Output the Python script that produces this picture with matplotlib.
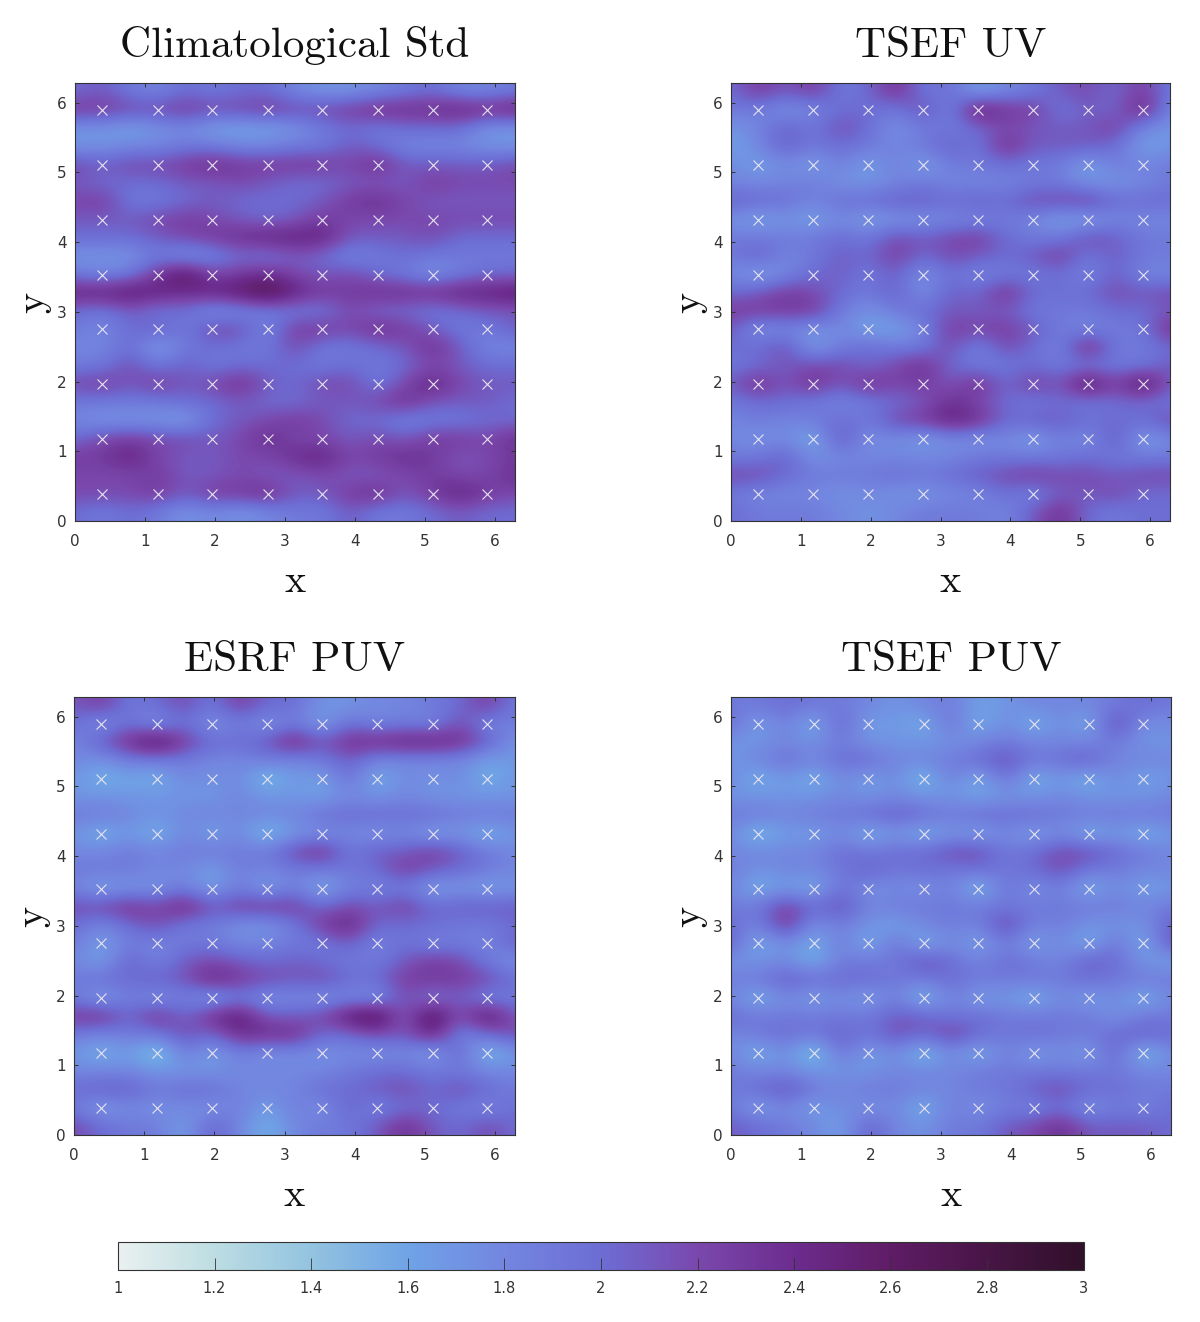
import matplotlib
matplotlib.use('Agg')
import matplotlib.pyplot as plt
from matplotlib.colors import LinearSegmentedColormap
import numpy as np

# values on a coarse grid, top row first
clim_std = [
    [2.0,2.1,1.9,1.8,2.0,1.9,2.0,2.0,1.8,1.7,1.7,1.8,1.9,2.0,1.8,1.8,1.9],
    [2.3,2.3,2.2,2.2,2.3,2.2,2.2,2.3,2.2,2.2,2.3,2.4,2.4,2.4,2.5,2.4,2.5],
    [1.7,1.7,1.6,1.7,1.8,1.6,1.6,1.6,1.7,1.9,2.0,1.9,2.0,2.0,2.0,1.7,1.7],
    [1.7,1.7,1.8,1.8,1.9,1.9,1.8,1.8,1.9,1.9,2.1,2.0,1.8,1.8,1.8,1.7,1.7],
    [2.2,2.1,2.2,2.2,2.3,2.4,2.3,2.3,2.3,2.3,2.2,2.4,2.1,2.1,2.1,2.1,2.2],
    [2.1,2.0,2.0,2.0,2.1,2.1,2.2,2.1,2.0,2.0,2.1,2.1,2.1,2.3,2.2,2.2,2.2],
    [2.2,2.3,1.9,1.9,2.0,2.1,2.0,2.0,2.0,2.1,2.3,2.4,2.2,2.1,2.1,2.1,2.1],
    [2.1,2.1,2.1,2.2,2.3,2.2,2.1,2.0,2.1,2.3,2.2,2.2,2.2,2.2,2.2,2.2,2.2],
    [2.0,2.0,2.0,2.1,2.2,2.3,2.4,2.5,2.5,2.5,2.1,2.1,2.1,2.2,2.0,2.0,2.0],
    [1.7,1.7,1.7,1.9,1.7,1.8,2.0,1.9,2.1,2.0,1.8,1.9,2.0,1.9,1.9,1.9,1.9],
    [1.9,1.8,1.9,2.3,2.7,2.2,2.3,2.4,2.2,2.1,2.2,2.0,1.9,1.7,1.9,2.0,2.0],
    [2.5,2.5,2.6,2.5,2.4,2.5,2.6,2.8,2.5,2.3,2.3,2.4,2.4,2.4,2.5,2.5,2.6],
    [2.0,1.9,2.1,1.9,2.0,1.7,1.8,1.9,1.9,1.9,2.2,2.0,2.0,1.9,2.0,2.1,2.1],
    [1.9,1.8,2.0,2.1,1.9,2.2,2.2,1.8,2.3,2.3,2.2,2.4,2.3,2.1,1.9,1.9,2.1],
    [1.8,1.8,2.0,1.6,1.9,2.0,1.9,1.9,2.2,1.9,1.9,2.0,2.1,2.4,2.1,1.8,1.8],
    [1.9,1.9,2.2,1.9,2.1,1.9,2.0,2.0,2.0,1.9,2.0,1.9,2.0,2.2,2.1,2.0,2.0],
    [2.2,2.3,2.1,2.3,2.1,2.2,2.4,2.1,2.0,2.2,2.2,1.9,2.2,2.5,2.2,2.1,2.1],
    [1.9,1.9,1.9,1.9,2.0,2.0,2.1,2.0,2.0,2.1,2.1,2.2,2.4,2.1,2.1,2.1,2.0],
    [1.8,1.7,1.7,1.7,1.6,2.0,2.1,2.2,2.3,2.2,2.0,2.0,1.8,1.9,1.9,2.0,2.0],
    [2.0,2.2,2.3,2.2,2.2,2.1,2.2,2.4,2.2,2.2,2.1,2.2,2.1,2.3,2.3,2.2,2.4],
    [2.3,2.3,2.5,2.2,2.1,2.1,2.2,2.2,2.4,2.5,2.2,2.3,2.4,2.3,2.1,2.2,2.3],
    [2.2,2.2,2.2,2.3,2.1,2.1,2.2,2.1,2.1,2.2,2.1,2.1,2.2,2.3,2.2,2.2,2.4],
    [2.2,2.2,2.2,2.3,2.1,2.3,2.3,2.4,2.1,2.1,2.3,2.4,2.1,2.3,2.5,2.3,2.2],
    [2.0,1.9,2.0,1.9,1.7,1.8,1.7,1.8,1.9,1.9,2.1,1.9,1.9,2.0,2.1,2.0,2.0],
]
tsef_uv = [
    [2.0,2.3,2.1,2.3,1.9,2.0,2.4,1.9,2.0,1.6,1.8,1.9,2.1,2.2,2.0,2.3,1.9],
    [1.9,1.9,1.7,1.8,2.0,2.0,1.9,2.2,1.8,2.6,2.3,2.3,1.9,2.1,2.0,2.5,1.8],
    [1.7,1.8,2.1,1.9,2.2,2.0,1.7,1.9,1.9,2.0,2.2,2.1,2.1,2.1,2.3,1.8,1.7],
    [1.6,1.8,2.1,1.9,2.0,1.9,1.8,1.9,2.1,1.9,2.4,2.1,2.1,2.1,2.0,1.6,1.7],
    [1.8,1.6,1.8,1.6,1.9,1.6,1.9,1.6,1.9,1.9,2.0,1.9,1.9,1.6,1.9,1.8,1.9],
    [1.8,1.8,1.8,1.9,1.7,1.7,1.8,1.9,1.8,1.8,1.8,1.9,1.9,1.7,1.7,1.8,1.9],
    [2.1,2.0,2.0,1.8,2.0,2.0,2.1,2.1,2.0,2.1,2.0,2.2,2.2,2.3,2.0,2.0,2.0],
    [1.7,1.6,1.7,1.6,1.8,1.6,1.7,1.7,1.8,1.8,1.9,1.8,1.6,1.6,1.8,1.8,1.8],
    [1.9,1.9,1.9,1.9,2.0,1.9,2.2,2.1,2.2,2.3,2.0,1.9,1.9,2.2,2.1,1.9,1.9],
    [1.9,2.1,1.8,1.9,2.1,2.0,2.3,2.0,2.2,2.1,2.0,2.1,2.3,1.9,2.1,1.9,1.9],
    [1.8,1.6,1.8,2.0,2.1,1.9,2.1,1.7,2.0,1.8,1.9,1.9,2.0,1.8,2.1,1.8,1.8],
    [2.0,2.1,2.3,2.2,2.0,1.9,2.1,1.7,2.1,2.0,2.4,2.0,2.0,2.0,2.2,2.1,2.2],
    [2.3,2.3,2.3,2.3,1.9,1.7,1.9,2.0,2.1,2.1,2.1,1.9,1.9,1.9,2.0,2.0,2.1],
    [2.1,1.7,1.8,1.7,1.8,1.6,1.6,1.8,2.3,2.2,2.3,2.1,1.9,1.8,1.9,1.9,2.4],
    [2.0,2.0,2.2,1.6,1.9,2.0,1.9,1.9,2.2,1.8,2.2,2.0,1.8,2.5,1.9,1.9,2.0],
    [1.9,2.0,2.1,2.2,2.2,2.0,2.2,2.4,2.0,1.9,1.9,2.0,1.9,1.9,1.9,1.9,2.1],
    [2.1,2.4,2.1,2.4,2.1,2.4,2.2,2.3,2.1,2.4,2.0,2.3,2.1,2.7,2.2,2.7,2.1],
    [1.9,2.0,2.0,1.9,1.8,1.9,2.0,2.1,2.4,2.2,2.0,1.9,2.0,1.9,2.0,2.0,1.9],
    [1.8,1.9,1.8,1.9,2.0,1.9,2.2,2.3,2.5,2.4,2.0,2.1,2.1,2.0,2.0,2.0,2.2],
    [1.8,1.7,1.8,1.5,2.2,1.7,1.8,1.6,1.8,1.7,1.8,1.6,1.9,1.7,2.2,1.6,1.8],
    [1.9,1.9,2.1,1.7,1.8,1.8,1.8,1.8,1.8,1.9,1.9,1.9,1.9,2.0,1.9,1.9,1.9],
    [2.2,2.2,2.0,1.9,1.9,1.9,2.0,1.9,2.0,2.1,2.2,2.3,2.2,2.2,2.1,2.2,2.2],
    [1.9,1.8,1.8,1.8,1.7,1.8,1.7,1.7,1.8,1.8,2.0,1.8,2.1,2.1,2.2,2.0,2.0],
    [2.0,1.9,1.9,1.9,1.8,1.7,1.8,1.9,1.9,1.9,1.8,2.1,2.4,2.0,1.9,2.0,2.0],
]
esrf_puv = [
    [2.1,2.3,1.9,2.0,2.2,1.9,2.3,2.0,2.0,1.7,1.7,1.8,1.8,1.9,2.0,2.3,1.9],
    [2.0,1.7,2.0,1.7,2.0,1.7,1.9,1.7,1.9,1.6,2.0,1.8,1.9,1.8,2.2,1.8,1.9],
    [1.8,2.1,2.4,2.7,2.3,2.0,2.0,2.1,2.5,2.1,2.4,2.4,2.5,2.5,2.4,2.1,1.7],
    [1.8,1.7,1.9,1.9,1.9,1.8,1.8,1.9,1.8,1.9,2.1,1.8,1.8,1.8,1.8,1.6,1.7],
    [1.7,1.5,1.6,1.5,1.8,1.7,1.8,1.4,1.7,1.6,2.0,1.5,1.8,1.7,1.8,1.5,1.7],
    [1.7,1.7,1.7,1.7,1.7,1.7,1.8,1.7,1.7,1.6,1.8,1.7,1.8,1.7,1.7,1.7,1.7],
    [1.9,1.9,1.8,1.7,1.8,1.8,1.8,1.8,1.8,2.0,2.0,2.0,2.0,2.0,1.9,1.9,1.9],
    [1.7,1.5,1.7,1.5,1.8,1.6,1.8,1.4,1.7,1.7,1.8,1.7,1.8,1.6,1.7,1.5,1.7],
    [1.8,1.8,1.9,1.8,1.9,1.9,1.9,1.9,2.2,2.4,1.9,2.1,2.1,2.3,2.1,1.9,1.8],
    [1.9,1.9,1.9,1.8,1.8,1.6,1.9,1.8,1.9,1.9,1.9,2.0,2.3,2.1,2.0,1.9,1.8],
    [1.8,1.6,1.7,1.7,1.9,1.6,1.9,1.6,1.9,1.5,1.9,1.8,1.9,1.6,1.7,1.6,1.7],
    [2.2,2.2,2.4,2.2,2.5,2.1,2.3,2.3,2.3,2.0,2.2,2.1,2.3,2.0,2.1,2.1,2.1],
    [2.0,1.8,2.0,2.2,1.9,1.9,1.7,1.7,1.9,2.3,2.5,2.0,2.0,2.0,1.9,1.9,2.0],
    [1.9,1.6,1.9,1.8,1.9,1.9,1.8,1.8,1.9,1.9,2.1,1.8,2.0,1.8,1.9,1.8,2.1],
    [1.8,1.6,2.1,1.8,2.1,2.2,2.1,2.0,2.1,2.0,1.9,1.9,2.1,2.3,2.2,1.9,1.7],
    [1.9,2.0,2.0,2.1,2.1,2.5,2.3,2.2,2.1,2.2,2.0,2.0,2.3,2.3,2.3,2.2,2.0],
    [1.9,1.6,1.9,1.7,1.9,1.6,1.9,1.7,1.8,1.7,1.8,1.7,2.2,1.9,2.1,1.8,1.9],
    [2.3,2.4,2.0,2.4,2.0,2.4,2.6,2.1,2.1,2.2,2.6,2.8,2.0,2.8,2.1,2.7,2.1],
    [1.9,1.8,1.9,1.9,2.2,2.0,2.4,2.4,2.4,2.0,2.0,2.2,2.1,2.5,1.8,2.0,2.2],
    [1.7,1.5,1.7,1.3,1.9,1.6,1.9,1.7,1.8,1.7,1.8,1.7,1.8,1.6,2.1,1.4,1.7],
    [1.8,1.8,1.8,1.7,1.7,1.7,1.8,1.8,1.8,1.8,1.9,2.0,2.0,1.9,1.9,1.8,1.8],
    [2.0,2.1,2.1,1.9,2.0,2.0,1.8,1.8,1.8,2.0,2.0,2.1,2.2,2.0,2.2,2.0,1.9],
    [1.9,1.6,1.8,1.7,1.8,1.7,1.9,1.6,1.9,1.7,2.1,1.8,2.0,2.0,1.9,1.8,2.0],
    [2.2,2.0,1.9,1.9,1.6,2.1,1.8,1.5,1.8,1.9,1.9,2.1,2.4,2.1,2.0,2.2,2.0],
]
tsef_puv = [
    [1.9,1.9,2.0,1.9,1.9,1.8,1.7,1.8,1.9,1.6,1.7,1.8,1.8,1.8,1.9,2.0,1.9],
    [2.0,1.6,1.9,1.5,2.1,1.6,1.7,1.5,2.0,1.5,1.8,1.5,1.8,1.5,2.3,1.7,1.8],
    [1.7,1.7,1.8,1.7,1.9,1.7,1.7,1.7,1.7,1.8,1.9,1.8,1.8,1.8,1.9,1.7,1.7],
    [1.7,1.8,2.0,1.8,2.0,2.0,1.8,1.8,1.9,2.0,2.2,1.9,2.0,2.1,1.8,1.8,1.8],
    [1.8,1.5,1.7,1.5,1.8,1.6,1.8,1.4,1.9,1.5,2.0,1.5,1.7,1.5,1.8,1.6,1.7],
    [1.7,1.7,1.7,1.7,1.8,1.7,1.8,1.7,1.7,1.6,1.7,1.7,1.8,1.7,1.7,1.7,1.8],
    [1.9,1.9,1.8,1.9,1.9,2.0,2.1,2.0,1.9,2.0,2.0,2.0,1.9,1.9,1.9,1.9,1.9],
    [1.8,1.4,1.7,1.6,1.8,1.5,1.7,1.5,1.7,1.6,1.8,1.6,1.8,1.5,1.7,1.5,1.7],
    [1.8,1.8,1.8,1.8,2.0,1.9,2.0,2.0,2.2,2.2,1.9,2.0,2.2,2.2,2.0,1.9,1.8],
    [1.9,1.7,1.8,1.8,1.9,2.1,1.9,2.0,1.9,2.0,1.9,2.0,2.2,1.9,1.9,1.8,1.8],
    [1.8,1.5,1.7,1.5,2.0,1.7,1.8,1.7,1.9,1.4,2.0,1.7,1.9,1.5,1.8,1.6,1.7],
    [1.9,1.9,2.3,2.0,2.2,1.8,1.9,1.9,1.9,1.9,1.9,1.9,1.9,1.9,1.9,1.8,1.9],
    [2.0,1.8,2.4,1.7,1.9,1.7,1.6,1.8,1.9,1.8,2.3,1.8,1.9,1.7,1.7,1.7,2.1],
    [2.1,1.5,1.8,1.5,1.9,1.5,2.0,1.5,1.8,1.6,1.9,1.6,1.8,1.5,2.0,1.5,2.2],
    [1.7,1.7,1.8,1.5,1.9,1.9,1.9,2.2,2.0,1.8,2.0,1.9,1.8,2.1,2.0,1.7,1.6],
    [1.9,1.9,2.1,2.0,2.0,2.0,1.9,1.9,2.0,1.9,1.9,1.9,1.9,2.0,1.9,1.9,1.9],
    [1.8,1.5,1.8,1.6,1.8,1.6,1.9,1.4,1.9,1.6,1.7,1.5,1.8,1.6,1.8,1.5,1.8],
    [2.0,1.9,1.9,1.9,1.9,1.9,2.1,2.1,1.9,2.0,1.9,1.9,1.9,1.9,1.7,1.9,1.9],
    [1.8,1.9,2.0,1.9,2.1,1.9,2.2,2.0,2.3,2.0,1.9,2.0,1.9,1.9,2.0,2.1,2.0],
    [1.8,1.5,1.8,1.3,2.0,1.6,1.8,1.4,1.8,1.5,1.9,1.6,1.8,1.6,2.1,1.4,1.8],
    [1.9,1.8,1.8,1.7,1.7,1.7,1.8,1.8,1.8,1.9,1.9,1.9,1.9,1.9,1.9,1.8,1.8],
    [1.9,2.0,2.2,1.9,1.8,1.9,1.9,1.8,1.8,1.9,1.9,2.1,2.2,2.0,2.0,1.9,1.9],
    [1.9,1.6,1.8,1.6,1.8,1.7,1.8,1.5,1.9,1.7,1.9,1.8,2.0,1.7,1.9,1.8,2.0],
    [2.1,2.0,1.9,1.8,1.6,2.1,1.8,1.7,1.9,1.9,2.1,2.2,2.4,2.1,2.1,2.1,2.0],
]

titles = ['Climatological Std', 'TSEF UV', 'ESRF PUV', 'TSEF PUV']
fields = [clim_std, tsef_uv, esrf_puv, tsef_puv]
obs_x = [0.39, 1.18, 1.96, 2.75, 3.53, 4.32, 5.11, 5.89]
obs_y = [0.39, 1.18, 1.96, 2.75, 3.53, 4.32, 5.11, 5.89]
ticks = [0, 1, 2, 3, 4, 5, 6]
cbar_ticks = [1, 1.2, 1.4, 1.6, 1.8, 2, 2.2, 2.4, 2.6, 2.8, 3]
cbar_labels = ['1', '1.2', '1.4', '1.6', '1.8', '2', '2.2', '2.4', '2.6', '2.8', '3']

cmap = LinearSegmentedColormap.from_list('std_map', [
    '#eaf0f0', '#bcdde2', '#92c3e0', '#6fa3e6', '#7386e0', '#6d6dd4',
    '#7a48ad', '#6c2c8e', '#5f1c66', '#481546', '#30102a'])

W, H = 1200, 1322
fig = plt.figure(figsize=(W / 100, H / 100), dpi=100)
fig.patch.set_facecolor('white')

# pixel boxes: left, top, right, bottom
boxes = [(75, 83, 515, 521), (731, 83, 1170, 521), (74, 697, 515, 1135), (731, 697, 1171, 1135)]
dark = '#333333'

for box, field, title in zip(boxes, fields, titles):
    l, t, r, b = box
    ax = fig.add_axes([l / W, 1 - b / H, (r - l) / W, (b - t) / H])
    # 17 columns sit on 0, 0.39, ... 6.28 so the image runs half a cell past the box
    im = ax.imshow(np.array(field), extent=(-0.196, 6.479, 0, 6.283), cmap=cmap, vmin=1, vmax=3,
                   interpolation='bicubic', aspect='auto')
    xx, yy = np.meshgrid(obs_x, obs_y)
    ax.plot(xx.ravel(), yy.ravel(), 'x', color='#e6e4f2', ms=6.5, mew=0.8)
    ax.set_xlim(0, 6.283)
    ax.set_ylim(0, 6.283)
    ax.set_xticks(ticks)
    ax.set_yticks(ticks)
    ax.tick_params(direction='in', top=True, right=True, length=3, width=0.7, labelsize=11,
                   colors=dark, pad=6)
    ax.tick_params(axis='x', pad=9)
    for s in ax.spines.values():
        s.set_linewidth(0.8)
        s.set_color(dark)
    ax.set_title(title, family='cmr10', fontsize=31, color='#111111', pad=19)
    ax.set_xlabel('x', family='cmr10', fontsize=29, color='#111111', labelpad=11)
    ax.set_ylabel('y', family='cmr10', fontsize=29, color='#111111', labelpad=4)

cax = fig.add_axes([118 / W, 1 - 1270 / H, (1084 - 118) / W, 28 / H])
cb = fig.colorbar(im, cax=cax, orientation='horizontal')
cb.set_ticks(cbar_ticks)
cb.set_ticklabels(cbar_labels)
cb.ax.tick_params(direction='in', length=9, width=0.6, labelsize=10.5, colors=dark, pad=8, bottom=True)
cb.outline.set_linewidth(0.8)
cb.outline.set_edgecolor(dark)

fig.savefig('out.png', dpi=100, facecolor='white')
